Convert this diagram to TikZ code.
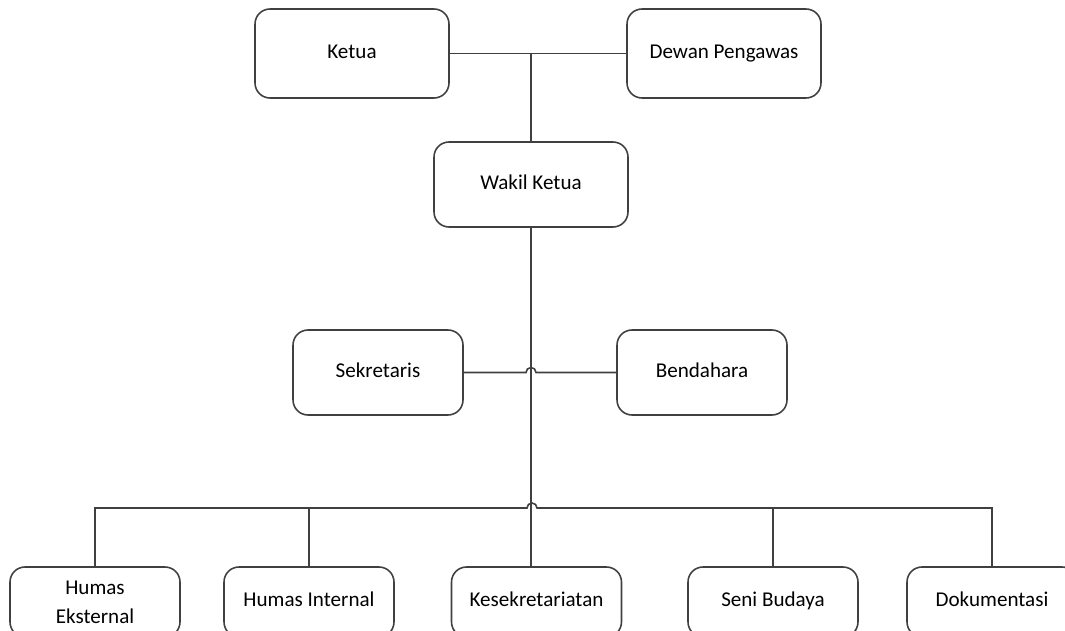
\documentclass[tikz,border=0pt]{standalone}
\usepackage{fontspec}
\setmainfont{Carlito}
\usepackage{tikz}
\usetikzlibrary{positioning}

\begin{document}
\begin{tikzpicture}[x=0.02cm,y=-0.02cm,
  box/.style={draw=black!75,line width=0.9pt,rounded corners=0.3cm,align=center,
    font=\fontsize{12}{16.5}\selectfont,inner sep=0pt,text height=1.6ex,text depth=0.45ex},
  bigbox/.style={box,minimum width=3.88cm,minimum height=1.78cm},
  midbox/.style={box,minimum width=3.4cm,minimum height=1.7cm},
  lowbox/.style={box,minimum width=3.4cm,minimum height=1.4cm},
  link/.style={draw=black!75,line width=0.9pt}]
\useasboundingbox (0,0) rectangle (1065,631);
\clip (0,0) rectangle (1065,631);
\node [bigbox] (ketua) at (352,53.5) {Ketua};
\node [bigbox] (dewan) at (724,53.5) {Dewan Pengawas};
\node [bigbox,minimum height=1.7cm] (wakil) at (531,184.5) {Wakil Ketua};
\node [midbox] (sekretaris) at (378,372.5) {Sekretaris};
\node [midbox] (bendahara) at (702,372.5) {Bendahara};
\node [lowbox,text height={},text depth={}] (humaseks) at (95,602) {Humas\\Eksternal};
\node [lowbox] (humasint) at (309,602) {Humas Internal};
\node [lowbox] (kesek) at (536.5,602) {Kesekretariatan};
\node [lowbox] (seni) at (773,602) {Seni Budaya};
\node [lowbox] (dok) at (992,602) {Dokumentasi};
\coordinate (bus) at (532,508);
\draw [link] (ketua.east) -- (dewan.west);
\draw [link] (wakil.north) -- (wakil.north |- ketua.east);
\draw [link] (wakil.south) -- (wakil.south |- kesek.north);
\draw [link] (sekretaris.east) -- ([xshift=-0.1cm]wakil.south |- sekretaris.east) arc (180:0:0.1cm) -- (bendahara.west);
\draw [link] (humaseks.north) -- (humaseks.north |- bus) -- ([xshift=-0.1cm]bus) arc (180:0:0.1cm) -- (dok.north |- bus) -- (dok.north);
\draw [link] (humasint.north) -- (humasint.north |- bus);
\draw [link] (seni.north) -- (seni.north |- bus);
\end{tikzpicture}
\end{document}
